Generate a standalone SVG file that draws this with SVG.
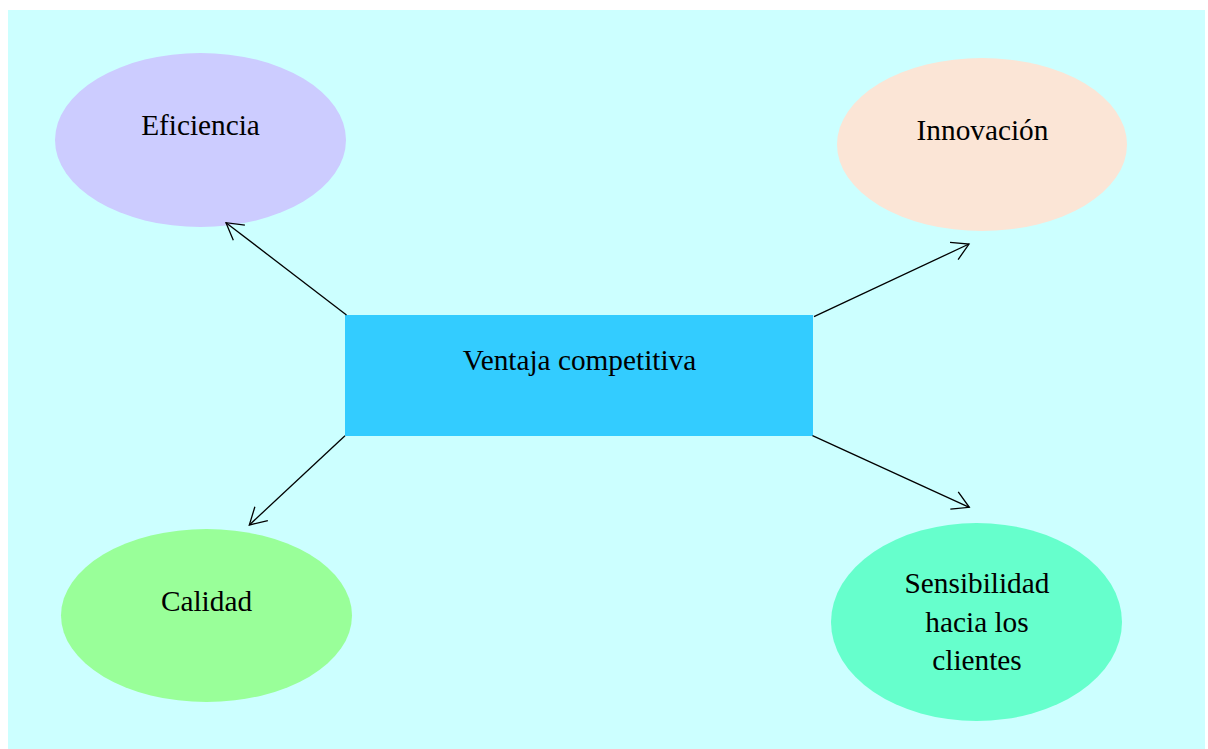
<svg xmlns="http://www.w3.org/2000/svg" width="1208" height="749" viewBox="0 0 1208 749">
  <style>
    .lbl { font-family: "Liberation Serif", "Times New Roman", serif; font-size: 29.3px; fill: #000; text-anchor: middle; }
    .edge { stroke: #000; stroke-width: 1.3; fill: none; marker-end: url(#open-arrow); }
  </style>
  <defs>
    <marker id="open-arrow" markerUnits="userSpaceOnUse" viewBox="-20 -12 22 24" markerWidth="22" markerHeight="24" refX="0" refY="0" orient="auto" overflow="visible">
      <path d="M-16.5,-9.5 L0,0 L-16.5,9.5" fill="none" stroke="#000" stroke-width="1.3"/>
    </marker>
  </defs>

  <!-- canvas -->
  <rect x="8" y="10" width="1197" height="739" fill="#CCFFFF"/>

  <g id="ventaja">
    <rect x="345" y="315" width="468" height="121" fill="#33CCFF"/>
    <text class="lbl" x="579.5" y="370">Ventaja competitiva</text>
  </g>

  <g id="eficiencia">
    <ellipse cx="200.5" cy="140" rx="145.5" ry="87" fill="#CCCCFF"/>
    <text class="lbl" x="200.5" y="135">Eficiencia</text>
  </g>

  <g id="innovacion">
    <ellipse cx="982" cy="144.5" rx="145" ry="86.5" fill="#FBE5D6"/>
    <text class="lbl" x="982.5" y="140">Innovación</text>
  </g>

  <g id="calidad">
    <ellipse cx="206.5" cy="615.5" rx="145.5" ry="86.5" fill="#99FF99"/>
    <text class="lbl" x="206.5" y="611">Calidad</text>
  </g>

  <g id="sensibilidad">
    <ellipse cx="976.5" cy="622" rx="145.5" ry="99" fill="#66FFCC"/>
    <text class="lbl" x="977" y="593">Sensibilidad</text>
    <text class="lbl" x="977" y="632">hacia los</text>
    <text class="lbl" x="977" y="670">clientes</text>
  </g>

  <!-- connectors from the central box, drawn above the nodes -->
  <g id="connectors">
    <line class="edge" x1="346.5" y1="315" x2="226" y2="222.7"/>
    <line class="edge" x1="814" y1="316.7" x2="969" y2="244"/>
    <line class="edge" x1="345" y1="435.7" x2="249.3" y2="525"/>
    <line class="edge" x1="812.5" y1="435.7" x2="969.3" y2="507.3"/>
  </g>
</svg>
